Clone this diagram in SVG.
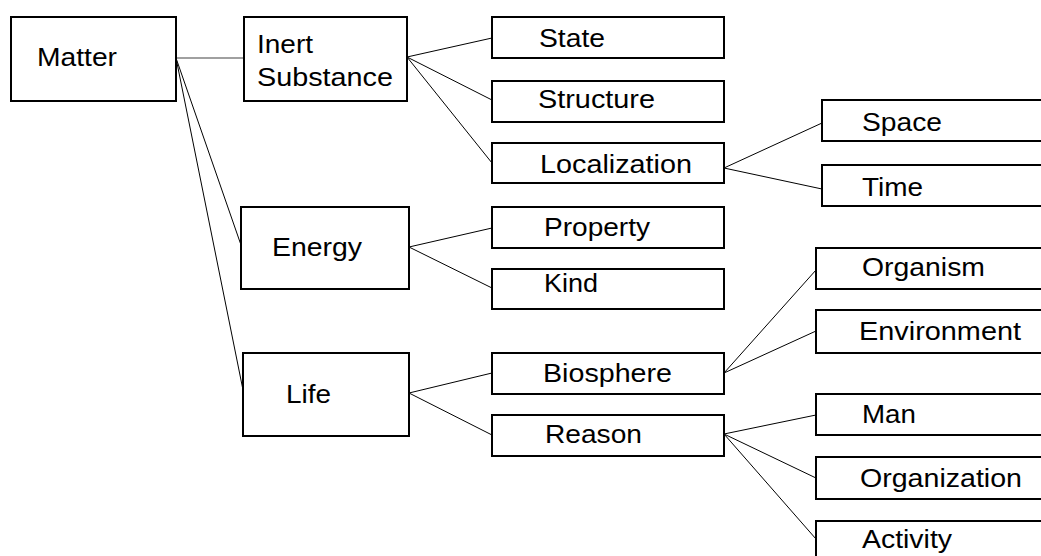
<svg xmlns="http://www.w3.org/2000/svg" width="1041" height="556" viewBox="0 0 1041 556">
<style>
.box{fill:#fff;stroke:#000;stroke-width:2}
.lbl{font-family:"Liberation Sans",Arial,sans-serif;font-size:26.5px;fill:#000}
.con{stroke:#000;stroke-width:1;fill:none}
.conG{stroke:#808080;stroke-width:1.5;fill:none}
</style>
<rect width="1041" height="556" fill="#fff"/>
<g id="connectors">
<line class="conG" x1="176" y1="58" x2="243" y2="58"/>
<line class="con" x1="176" y1="58" x2="241" y2="245"/>
<line class="con" x1="176" y1="58" x2="243" y2="390"/>
<line class="con" x1="407" y1="57" x2="492" y2="38"/>
<line class="con" x1="407" y1="57" x2="492" y2="100"/>
<line class="con" x1="407" y1="57" x2="492" y2="163"/>
<line class="con" x1="724" y1="168" x2="822" y2="123"/>
<line class="con" x1="724" y1="168" x2="822" y2="189"/>
<line class="con" x1="409" y1="247" x2="492" y2="228"/>
<line class="con" x1="409" y1="247" x2="492" y2="288"/>
<line class="con" x1="409" y1="393" x2="492" y2="373"/>
<line class="con" x1="409" y1="393" x2="492" y2="435"/>
<line class="con" x1="724" y1="373" x2="816" y2="270"/>
<line class="con" x1="724" y1="373" x2="816" y2="331"/>
<line class="con" x1="724" y1="434" x2="816" y2="415"/>
<line class="con" x1="724" y1="434" x2="816" y2="478"/>
<line class="con" x1="724" y1="434" x2="816" y2="539"/>
</g>
<g id="matter"><rect class="box" x="11" y="17" width="165" height="84"/><text class="lbl" x="37" y="66" textLength="80" lengthAdjust="spacingAndGlyphs">Matter</text></g>
<g id="inert"><rect class="box" x="244" y="17" width="163" height="84"/><text class="lbl" x="257" y="53" textLength="56" lengthAdjust="spacingAndGlyphs">Inert</text><text class="lbl" x="257" y="86" textLength="136" lengthAdjust="spacingAndGlyphs">Substance</text></g>
<g id="state"><rect class="box" x="492" y="17" width="232" height="41"/><text class="lbl" x="539" y="47" textLength="66" lengthAdjust="spacingAndGlyphs">State</text></g>
<g id="structure"><rect class="box" x="492" y="81" width="232" height="41"/><text class="lbl" x="538" y="108" textLength="117" lengthAdjust="spacingAndGlyphs">Structure</text></g>
<g id="localization"><rect class="box" x="492" y="143" width="232" height="40"/><text class="lbl" x="540" y="173" textLength="152" lengthAdjust="spacingAndGlyphs">Localization</text></g>
<g id="space"><rect class="box" x="822" y="100" width="230" height="41"/><text class="lbl" x="862" y="131" textLength="80" lengthAdjust="spacingAndGlyphs">Space</text></g>
<g id="time"><rect class="box" x="822" y="165" width="230" height="41"/><text class="lbl" x="862" y="196" textLength="61" lengthAdjust="spacingAndGlyphs">Time</text></g>
<g id="energy"><rect class="box" x="241" y="207" width="168" height="82"/><text class="lbl" x="272" y="256" textLength="90" lengthAdjust="spacingAndGlyphs">Energy</text></g>
<g id="property"><rect class="box" x="492" y="207" width="232" height="41"/><text class="lbl" x="544" y="236" textLength="106" lengthAdjust="spacingAndGlyphs">Property</text></g>
<g id="kind"><rect class="box" x="492" y="269" width="232" height="40"/><text class="lbl" x="544" y="292" textLength="54" lengthAdjust="spacingAndGlyphs">Kind</text></g>
<g id="life"><rect class="box" x="243" y="353" width="166" height="83"/><text class="lbl" x="286" y="403" textLength="45" lengthAdjust="spacingAndGlyphs">Life</text></g>
<g id="biosphere"><rect class="box" x="492" y="353" width="232" height="41"/><text class="lbl" x="543" y="382" textLength="129" lengthAdjust="spacingAndGlyphs">Biosphere</text></g>
<g id="reason"><rect class="box" x="492" y="415" width="232" height="41"/><text class="lbl" x="545" y="443" textLength="97" lengthAdjust="spacingAndGlyphs">Reason</text></g>
<g id="organism"><rect class="box" x="816" y="248" width="236" height="41"/><text class="lbl" x="862" y="276" textLength="123" lengthAdjust="spacingAndGlyphs">Organism</text></g>
<g id="environment"><rect class="box" x="816" y="310" width="236" height="43"/><text class="lbl" x="859" y="340" textLength="162" lengthAdjust="spacingAndGlyphs">Environment</text></g>
<g id="man"><rect class="box" x="816" y="394" width="236" height="41"/><text class="lbl" x="862" y="423" textLength="54" lengthAdjust="spacingAndGlyphs">Man</text></g>
<g id="organization"><rect class="box" x="816" y="457" width="236" height="42"/><text class="lbl" x="860" y="487" textLength="162" lengthAdjust="spacingAndGlyphs">Organization</text></g>
<g id="activity"><rect class="box" x="816" y="521" width="236" height="50"/><text class="lbl" x="862" y="548" textLength="90" lengthAdjust="spacingAndGlyphs">Activity</text></g>
</svg>
